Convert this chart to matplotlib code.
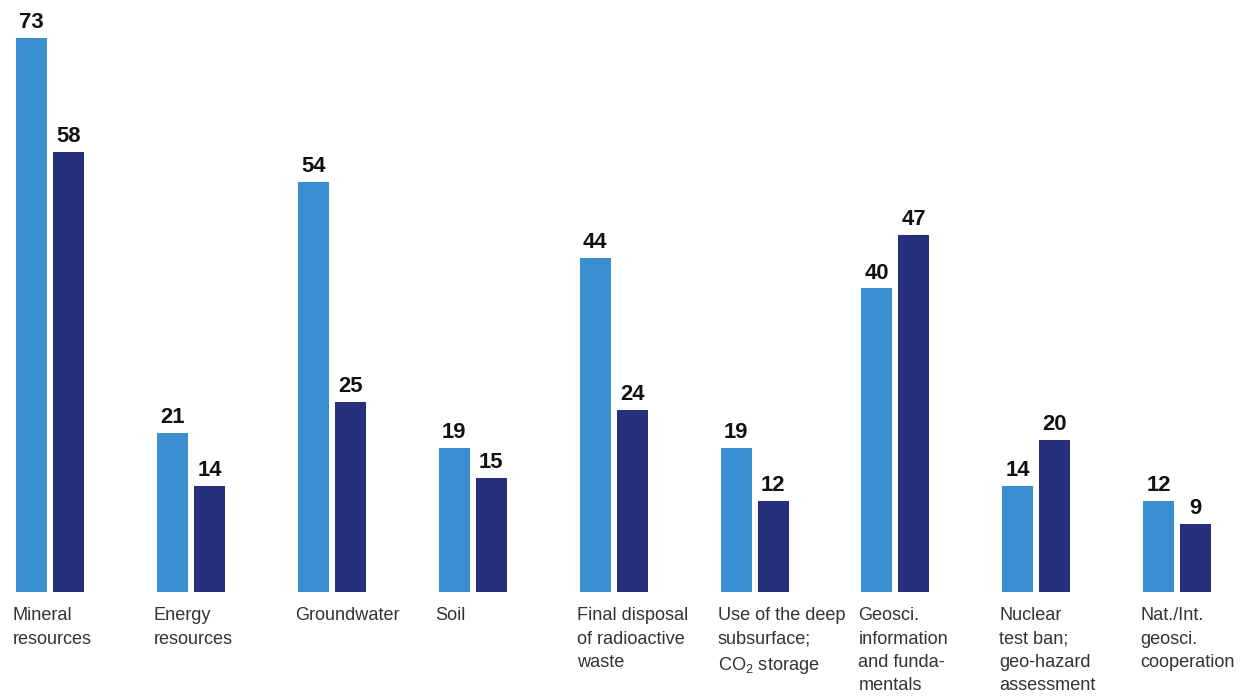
import matplotlib
matplotlib.use("Agg")
import matplotlib.pyplot as plt

plt.rcParams['font.family'] = ['Liberation Sans', 'DejaVu Sans']
plt.rcParams['mathtext.fontset'] = 'custom'
plt.rcParams['mathtext.rm'] = 'Liberation Sans'
plt.rcParams['mathtext.it'] = 'Liberation Sans'

categories = [
    "Mineral\nresources",
    "Energy\nresources",
    "Groundwater",
    "Soil",
    "Final disposal\nof radioactive\nwaste",
    "Use of the deep\nsubsurface;\nCO$_2$ storage",
    "Geosci.\ninformation\nand funda-\nmentals",
    "Nuclear\ntest ban;\ngeo-hazard\nassessment",
    "Nat./Int.\ngeosci.\ncooperation",
]
series_a = [73, 21, 54, 19, 44, 19, 40, 14, 12]
series_b = [58, 14, 25, 15, 24, 12, 47, 20, 9]

W, H = 1249, 698
fig = plt.figure(figsize=(W / 100, H / 100), dpi=100)
base_px = 592
ax = fig.add_axes([0, (H - base_px) / H, 1, base_px / H])
px_per_unit_y = (592 - 38) / 73.0
ax.set_ylim(0, base_px / px_per_unit_y)
step = 140.9
ax.set_xlim(-16 / step, (W - 16) / step)
ax.axis('off')

bw = 31 / step
off = 37 / step
c_a = '#3b8ed0'
c_b = '#262f7b'

xs = list(range(len(categories)))
ba = ax.bar([x for x in xs], series_a, width=bw, align='edge', color=c_a)
bb = ax.bar([x + off for x in xs], series_b, width=bw, align='edge', color=c_b)

for bars, vals in ((ba, series_a), (bb, series_b)):
    for r, v in zip(bars, vals):
        ax.annotate(str(v), (r.get_x() + r.get_width() / 2, r.get_height()),
                    xytext=(0, 3.5), textcoords='offset points',
                    ha='center', va='bottom', fontsize=15.8,
                    fontweight='bold', color='#111111')

for x, lab in zip(xs, categories):
    fig.text((16 + x * step - 3) / W, 1 - 607 / H, lab, ha='left', va='top',
             fontsize=13.1, color='#333333', linespacing=1.5)

fig.savefig('out.png', dpi=100)
